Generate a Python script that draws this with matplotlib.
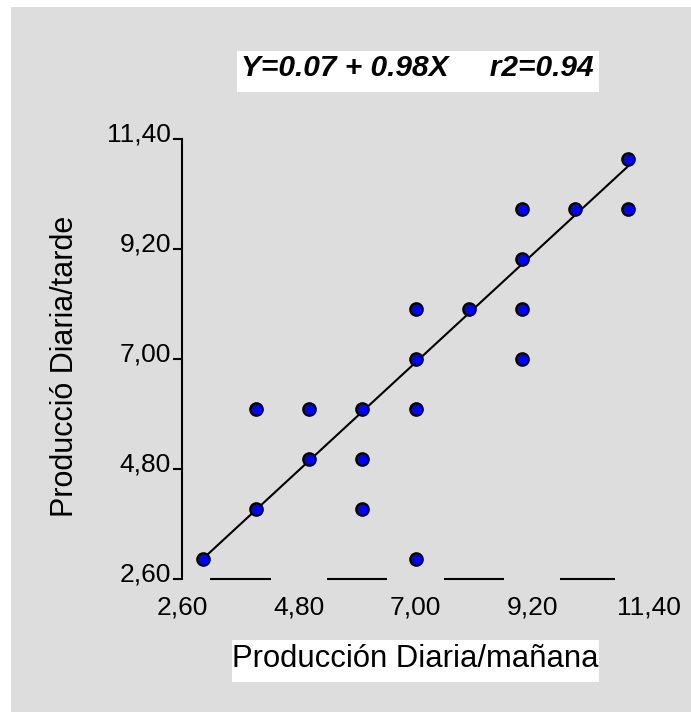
import matplotlib
matplotlib.use("Agg")
import matplotlib.pyplot as plt
import numpy as np
from matplotlib.patches import Rectangle
from matplotlib.transforms import ScaledTranslation

plt.rcParams['font.family'] = ['Liberation Sans', 'DejaVu Sans']

# ---- data ----
x_vals = [3, 4, 4, 5, 5, 6, 6, 6, 7, 7, 7, 7, 8, 9, 9, 9, 9, 10, 11, 11]
y_vals = [3, 4, 6, 5, 6, 6, 5, 4, 7, 8, 6, 3, 8, 8, 9, 10, 7, 10, 11, 10]
intercept = 0.07
slope = 0.98
ticks = [2.6, 4.8, 7.0, 9.2, 11.4]
tick_labels = ["2,60", "4,80", "7,00", "9,20", "11,40"]
title_text = "Y=0.07 + 0.98X     r2=0.94"
xlabel = "Producción Diaria/mañana"
ylabel = "Producció Diaria/tarde"

W, H = 691, 712
fig = plt.figure(figsize=(W / 100, H / 100), dpi=100)
fig.patch.set_facecolor("white")
grey = "#dddddd"
fig.patches.append(Rectangle((11 / W, 0), 1 - 11 / W, 1 - 7 / H,
                             transform=fig.transFigure, facecolor=grey,
                             edgecolor="none", zorder=-10))

ax = fig.add_axes([182 / W, 133 / H, 467 / W, 440 / H])
ax.set_facecolor("none")
ax.set_xlim(ticks[0], ticks[-1])
ax.set_ylim(ticks[0], ticks[-1])

# regression line
xl = np.array([min(x_vals), max(x_vals)])
ax.plot(xl, intercept + slope * xl, color="black", lw=1.5, zorder=2,
        clip_on=False)
# points
ax.scatter(x_vals, y_vals, s=80, facecolor="#0000ff", edgecolor="black",
           linewidth=1.6, zorder=3, clip_on=False)

# bottom decorative segments centred between ticks
mids = [(a + b) / 2 for a, b in zip(ticks[:-1], ticks[1:])]
half = 0.57
ax.hlines([ticks[0]] * len(mids), [m - half for m in mids],
          [min(m + half, 10.75) for m in mids], color="black", lw=1.5,
          clip_on=False)

for s in ["top", "right", "bottom"]:
    ax.spines[s].set_visible(False)
ax.spines["left"].set_linewidth(1.5)

ax.set_xticks(ticks)
ax.set_xticklabels(tick_labels)
ax.set_yticks(ticks)
ax.set_yticklabels(tick_labels)
ax.tick_params(axis="x", length=0, pad=12, labelsize=19)
ax.tick_params(axis="y", length=6.5, width=1.5, pad=1.5, labelsize=19,
               direction="out")
for lab in ax.get_yticklabels():
    lab.set_transform(lab.get_transform() +
                      ScaledTranslation(0, 5 / 72, fig.dpi_scale_trans))

# title box
fig.patches.append(Rectangle((237 / W, 1 - 92 / H), 362 / W, 41 / H,
                             transform=fig.transFigure, facecolor="white",
                             edgecolor="none", zorder=-5))
fig.text(241 / W, 1 - 76 / H, title_text, fontsize=21.5, fontweight="bold",
         fontstyle="italic", ha="left", va="baseline")

# x label box
fig.patches.append(Rectangle((232 / W, 1 - 682 / H), 367 / W, 42 / H,
                             transform=fig.transFigure, facecolor="white",
                             edgecolor="none", zorder=-5))
fig.text(415 / W, 1 - 667 / H, xlabel, fontsize=22.3, ha="center",
         va="baseline")

fig.text(65 / W, 1 - 366 / H, ylabel, fontsize=22, rotation=90,
         ha="center", va="center")

fig.savefig("out.png", dpi=100)
